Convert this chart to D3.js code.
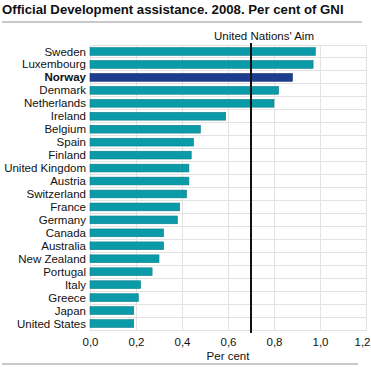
<!DOCTYPE html>
<html><head><meta charset="utf-8">
<script src="https://cdn.jsdelivr.net/npm/d3@7"></script>
<style>body{margin:0;background:#fff}svg{display:block;font-family:"Liberation Sans",Arial,sans-serif}</style>
</head><body><svg id="c" width="371" height="367"></svg>
<script>
const countries = ["Sweden","Luxembourg","Norway","Denmark","Netherlands","Ireland","Belgium","Spain","Finland","United Kingdom","Austria","Switzerland","France","Germany","Canada","Australia","New Zealand","Portugal","Italy","Greece","Japan","United States"];
const values = [0.98,0.97,0.88,0.82,0.80,0.59,0.48,0.45,0.44,0.43,0.43,0.42,0.39,0.38,0.32,0.32,0.30,0.27,0.22,0.21,0.19,0.19];
const ticks = [0,0.2,0.4,0.6,0.8,1.0,1.2];
const highlight = "Norway";
const unAim = 0.7;
const title = "Official Development assistance. 2008. Per cent of GNI";
const xTitle = "Per cent";
const refLabel = "United Nations' Aim";

const svg = d3.select("#c");
const m = {l:90, r:366, t:45, b:330};
const x = d3.scaleLinear().domain([0,1.2]).range([m.l, m.r]);
const y = d3.scaleBand().domain(countries).range([m.t, m.b]).paddingInner(0.4).paddingOuter(0.2);
const yb = d3.scaleBand().domain(countries).range([m.t, m.b]);

svg.append("text").attr("x",2).attr("y",14).attr("font-size",13.2).attr("font-weight","bold").attr("fill","#111").text(title);
svg.append("line").attr("x1",2).attr("x2",362).attr("y1",22).attr("y2",22).attr("stroke","#c8c8c8").attr("stroke-width",2);

// grid
const g = svg.append("g");
g.selectAll("line.h").data(countries).join("line")
  .attr("x1",m.l).attr("x2",m.r).attr("y1",d=>yb(d)).attr("y2",d=>yb(d))
  .attr("stroke","#e2e2e2").attr("stroke-width",1).attr("shape-rendering","crispEdges");
g.selectAll("line.v").data(ticks).join("line")
  .attr("x1",d=>x(d)).attr("x2",d=>x(d)).attr("y1",m.t).attr("y2",m.b)
  .attr("stroke","#e2e2e2").attr("stroke-width",1).attr("shape-rendering","crispEdges");
g.append("rect").attr("x",m.l).attr("y",m.t).attr("width",m.r-m.l).attr("height",m.b-m.t)
  .attr("fill","none").attr("stroke","#e2e2e2").attr("shape-rendering","crispEdges");

// bars
svg.append("g").selectAll("rect").data(countries).join("rect")
  .attr("x",x(0)).attr("y",d=>y(d)).attr("height",y.bandwidth())
  .attr("width",(d,i)=>x(values[i])-x(0))
  .attr("fill",d=>d===highlight?"#1c3d8f":"#0a9aa8")
  .attr("stroke",d=>d===highlight?"#132d70":"#0b7f8b").attr("stroke-width",0.6);

// y labels
svg.append("g").selectAll("text").data(countries).join("text")
  .attr("x",86).attr("y",d=>yb(d)+yb.bandwidth()/2).attr("dy","0.35em")
  .attr("text-anchor","end").attr("font-size",11.5).attr("fill","#111")
  .attr("font-weight",d=>d===highlight?"bold":"normal").text(d=>d);

// UN line
svg.append("line").attr("x1",x(unAim)).attr("x2",x(unAim)).attr("y1",m.t-2).attr("y2",m.b+3)
  .attr("stroke","#111").attr("stroke-width",2);
svg.append("text").attr("x",x(unAim)+13).attr("y",40).attr("text-anchor","middle")
  .attr("font-size",11.5).attr("fill","#111").text(refLabel);

// x axis
const fmt = d=>d3.format(".1f")(d).replace(".",",");
const ax = svg.append("g").attr("transform",`translate(0,${m.b})`)
  .call(d3.axisBottom(x).tickValues(ticks).tickFormat(fmt).tickSize(0).tickPadding(8));
ax.select(".domain").remove();
ax.selectAll("text").attr("font-size",11.5).attr("fill","#111").attr("font-family","Liberation Sans, Arial, sans-serif");
ax.selectAll(".tick").filter(d=>d===1.2).select("text").attr("text-anchor","end").attr("dx",4);
svg.append("text").attr("x",x(0.6)).attr("y",360).attr("text-anchor","middle").attr("font-size",11.5).attr("fill","#111").text(xTitle);
svg.append("line").attr("x1",2).attr("x2",358).attr("y1",364).attr("y2",364).attr("stroke","#c8c8c8").attr("stroke-width",2);
</script></body></html>
